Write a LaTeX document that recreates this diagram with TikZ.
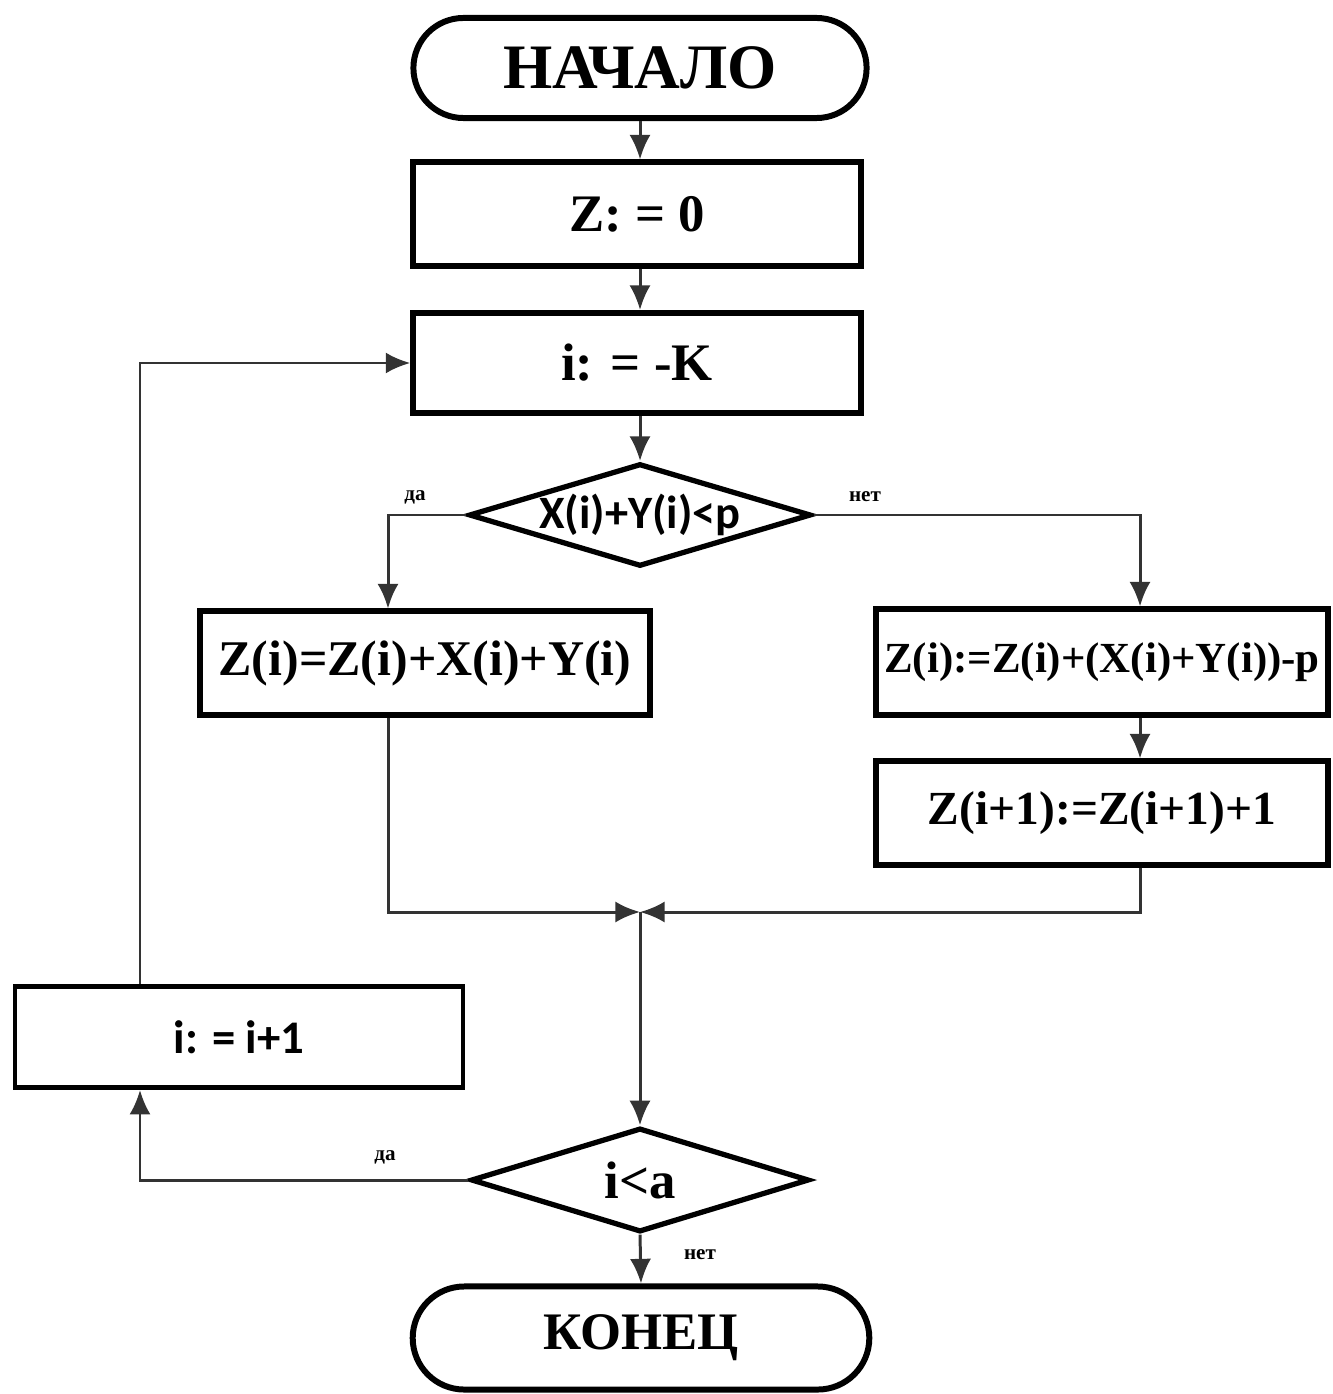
\documentclass[tikz,border=0pt]{standalone}
\usepackage{fontspec}
\setmainfont{Liberation Serif}
\newfontfamily\calib{Carlito}
\usetikzlibrary{arrows.meta,shapes.geometric,shapes.misc}

\begin{document}
\begin{tikzpicture}[x=0.01cm,y=-0.01cm,>={Latex[length=7pt,width=6pt]},every node/.style={font=\bfseries},
 term/.style={rounded rectangle,draw,line width=1.7pt,minimum width=4.5cm,minimum height=1.0cm},
 proc/.style={rectangle,draw,line width=1.7pt,minimum width=4.47cm,minimum height=1.03cm,inner sep=2pt},
 cond/.style={diamond,draw,line width=1.5pt,aspect=3.3,inner sep=0pt},
 conn/.style={->,line width=0.85pt,black!80},
 lbl/.style={font=\bfseries\fontsize{6}{7}\selectfont}]
\useasboundingbox (0,0) rectangle (1332,1394);
\node[term,font=\bfseries\fontsize{18}{21}\selectfont,text width=4.2cm,align=center] (start) at (640,68) {НАЧАЛО};
\node[proc,font=\bfseries\fontsize{15}{18}\selectfont] (zset) at (637,214) {Z: = 0};
\node[proc,font=\bfseries\fontsize{15}{18}\selectfont,minimum height=1.0cm] (iset) at (637,363) {i: = -K};
\node[cond,font=\calib\bfseries\fontsize{13.2}{16}\selectfont,minimum width=3.42cm,minimum height=1.02cm] (test) at (640,515) {X(i)+Y(i)<p};
\node[proc,font=\bfseries\fontsize{14.2}{17}\selectfont,minimum width=4.5cm] (sumyes) at (425,663) {Z(i)=Z(i)+X(i)+Y(i)};
\node[proc,font=\bfseries\fontsize{12.2}{15}\selectfont,minimum width=4.51cm,minimum height=1.05cm] (sumno) at (1102,662) {Z(i):=Z(i)+(X(i)+Y(i))-p};
\node[proc,font=\bfseries\fontsize{13.5}{16}\selectfont,minimum width=4.51cm] (carry) at (1102,813) {Z(i+1):=Z(i+1)+1};
\node[proc,font=\calib\bfseries\fontsize{13.3}{16}\selectfont,minimum width=4.48cm,minimum height=1.01cm,line width=1.3pt] (inext) at (239,1037) {i: = i+1};
\node[cond,font=\bfseries\fontsize{15}{18}\selectfont,minimum width=3.38cm,minimum height=1.04cm] (loop) at (640,1180) {i<a};
\node[term,font=\bfseries\fontsize{15}{18}\selectfont,text width=4.22cm,align=center,minimum height=1.03cm] (stop) at (641,1338) {КОНЕЦ};
\coordinate (join) at (640,912);
% main line
\draw[conn] (start.south) -- (start.south|-zset.north);
\draw[conn] (zset.south-|start.south) -- (start.south|-iset.north);
\draw[conn] (iset.south-|test.north) -- (test.north);
\draw[conn] (test.west) -| (sumyes.north-|388,0);
\draw[conn] (test.east) -| (sumno.north-|1140,0);
\draw[conn] (sumno.south-|1140,0) -- (carry.north-|1140,0);
\draw[conn] (sumyes.south-|388,0) |- (join);
\draw[conn] (carry.south-|1140,0) |- (join);
\draw[conn] (join) -- (loop.north);
\draw[conn] (loop.west) -| (inext.south-|140,0);
\draw[conn] (inext.north-|140,0) |- (iset.west);
\draw[conn] (loop.south) -- (stop.north);
% labels
\node[lbl] (yes1) at (415,497) {да};
\node[lbl] (no1) at (865,497) {нет};
\node[lbl] (yes2) at (385,1157) {да};
\node[lbl] (no2) at (700,1255) {нет};
\end{tikzpicture}
\end{document}
